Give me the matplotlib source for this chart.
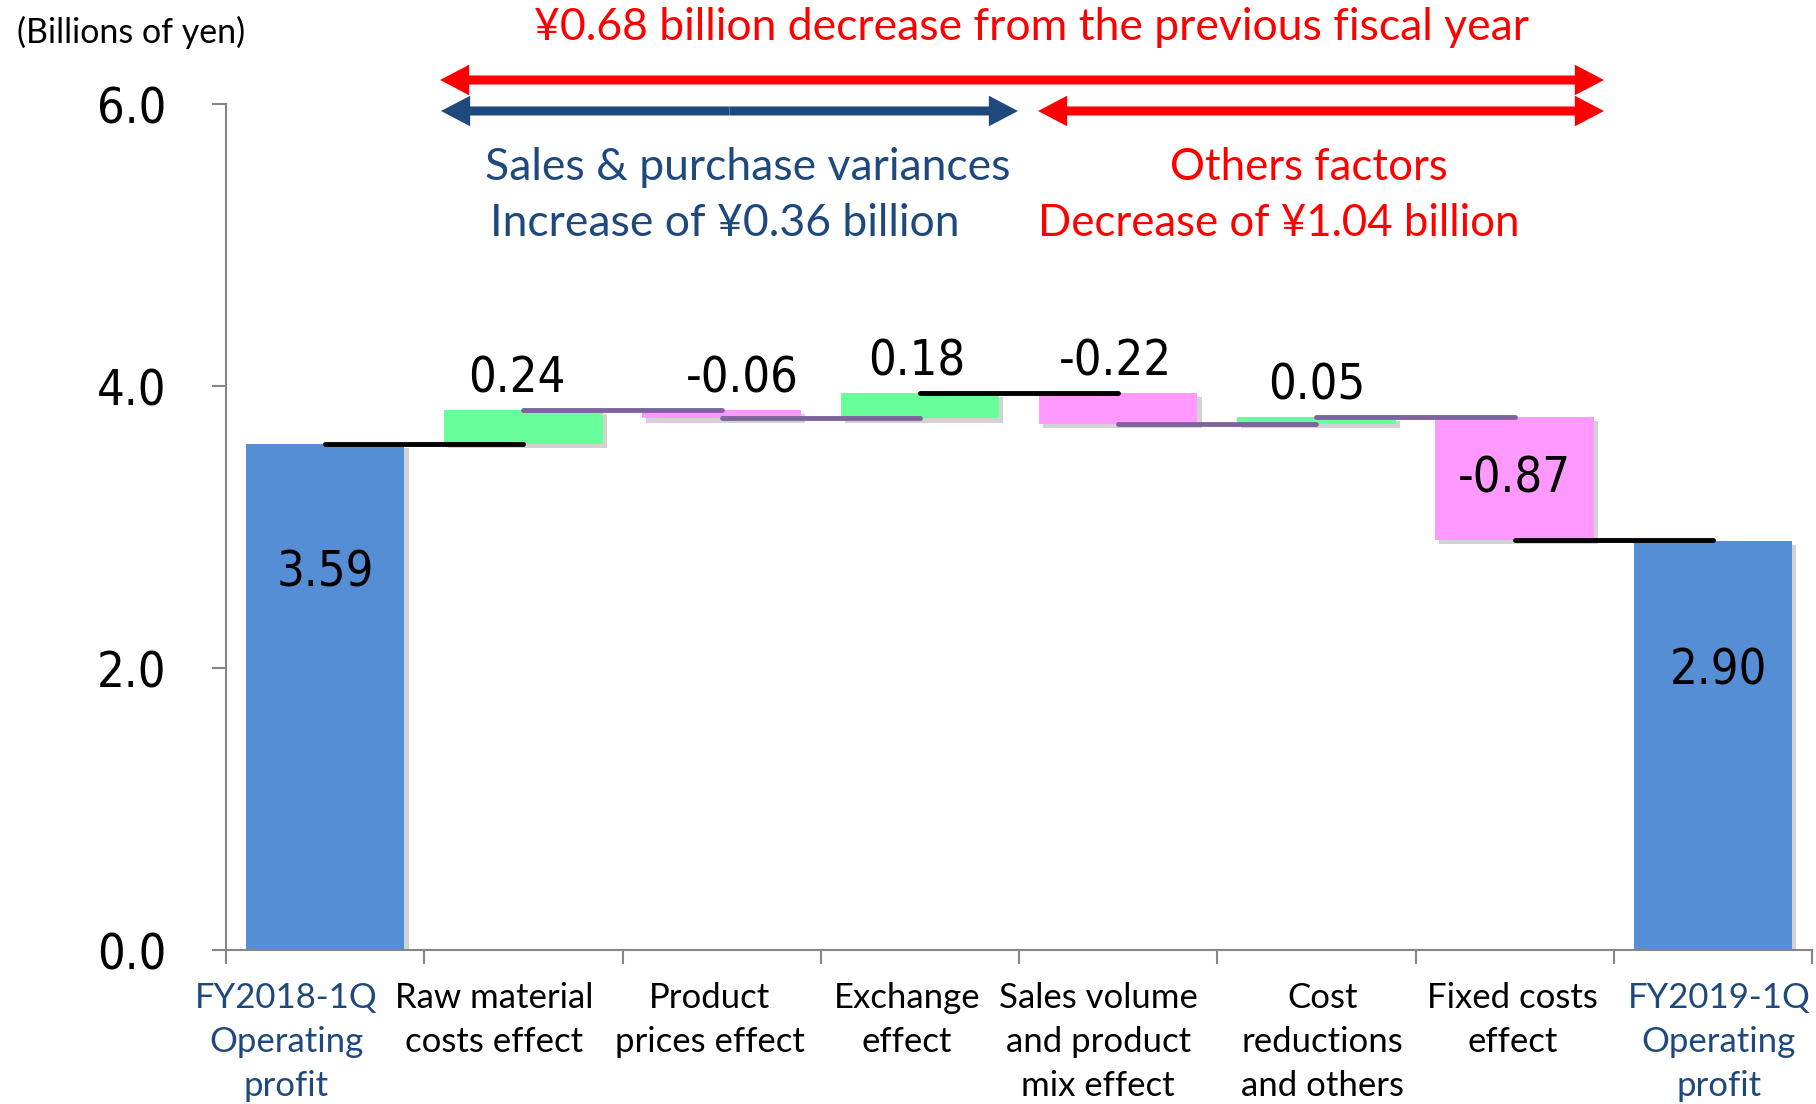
import matplotlib
matplotlib.use("Agg")
import matplotlib.pyplot as plt
import matplotlib.patheffects as pe
import matplotlib.transforms as mtransforms
from matplotlib.patches import FancyArrowPatch
import numpy as np

# data (billions of yen)
categories = ["FY2018-1Q\nOperating\nprofit", "Raw material\ncosts effect",
              "Product\nprices effect", "Exchange\neffect",
              "Sales volume\nand product\nmix effect", "Cost\nreductions\nand others",
              "Fixed costs\neffect", "FY2019-1Q\nOperating\nprofit"]
start_value = 3.59
changes = [0.24, -0.06, 0.18, -0.22, 0.05, -0.87]
end_value = 2.90
yticks = [0.0, 2.0, 4.0, 6.0]

title_text = "¥0.68 billion decrease from the previous fiscal year"
left_lines = ["Sales & purchase variances", "Increase of ¥0.36 billion"]
right_lines = ["Others factors", "Decrease of ¥1.04 billion"]
unit_text = "(Billions of yen)"

# styles
BLUE_BAR = "#558ED5"
GREEN = "#66FF99"
PINK = "#FF99FF"
NAVY = "#1F497D"
RED = "#FF0000"
PURPLE = "#7E649E"
connector_colors = ["black", PURPLE, PURPLE, "black", PURPLE, PURPLE, "black"]
label_colors = [NAVY] + ["black"] * 6 + [NAVY]
label_shift_px = [-39, -29, -12, -13, -20, 6, -2, 6]   # labels sit a bit off-centre in the original
value_shift_pt = [0, -5, 15, -2, -2, 0, 0, 4]

text_font = ["Lato", "DejaVu Sans"]
num_font = dict(family="DejaVu Sans", fontstretch="condensed", fontsize=35)

W, H = 1816, 1104
fig = plt.figure(figsize=(W / 100, H / 100), dpi=100)
ax = fig.add_axes([226 / W, 1 - 950 / H, (1812 - 226) / W, (950 - 104) / H])

shadow = [pe.withSimplePatchShadow(offset=(3, -3), shadow_rgbFace="#808080", alpha=0.35)]
width = 0.8
x = np.arange(len(categories))

running = start_value + np.cumsum(changes)
prev = np.concatenate([[start_value], running[:-1]])
bottoms = np.minimum(prev, running)
heights = np.abs(changes)
colors = [GREEN if c > 0 else PINK for c in changes]

ax.bar(x[0], start_value, width, color=BLUE_BAR, path_effects=shadow, zorder=2)
ax.bar(x[1:-1], heights, width, bottom=bottoms, color=colors, path_effects=shadow, zorder=2)
ax.bar(x[-1], end_value, width, color=BLUE_BAR, path_effects=shadow, zorder=2)

# connector lines from bar centre to next bar centre
levels = np.concatenate([[start_value], running])
for i, lvl in enumerate(levels):
    ax.plot([x[i], x[i + 1]], [lvl, lvl], color=connector_colors[i], lw=3.5,
            solid_capstyle="round", zorder=3)

# value labels
for k, (xi, v) in [(0, (x[0], start_value)), (7, (x[-1], end_value))]:
    ax.annotate("%.2f" % v, (xi, v), xytext=(value_shift_pt[k], -93), textcoords="offset points",
                ha="center", va="center", **num_font)
for i, c in enumerate(changes):
    xi = x[i + 1]
    dx = value_shift_pt[i + 1]
    if abs(c) > 0.5:
        ax.annotate("%.2f" % c, (xi, bottoms[i] + heights[i] / 2), xytext=(dx, 0),
                    textcoords="offset points", ha="center", va="center", zorder=4, **num_font)
    else:
        ax.annotate("%.2f" % c, (xi, bottoms[i] + heights[i]), xytext=(dx, 23),
                    textcoords="offset points", ha="center", va="center", **num_font)

ax.set_xlim(-0.5, len(categories) - 0.5)
ax.set_ylim(0, 6)
ax.set_yticks(yticks)
ax.set_yticklabels(["%.1f" % t for t in yticks], **num_font)
ax.set_xticks(x)
ax.set_xticklabels(categories, family=text_font, fontsize=25, linespacing=1.47)
ax.set_xticks(np.arange(-0.5, len(categories)), minor=True)
ax.tick_params(axis="x", which="major", length=0, pad=23)
ax.tick_params(axis="x", which="minor", length=10, color="#868686", width=1.5)
ax.tick_params(axis="y", length=10, color="#868686", width=1.5, pad=33)
for lbl, col, dx in zip(ax.get_xticklabels(), label_colors, label_shift_px):
    lbl.set_color(col)
    lbl.set_transform(lbl.get_transform()
                      + mtransforms.ScaledTranslation(dx / 100, 0, fig.dpi_scale_trans))
for s in ["top", "right"]:
    ax.spines[s].set_visible(False)
for s in ["left", "bottom"]:
    ax.spines[s].set_color("#868686")
    ax.spines[s].set_linewidth(1.5)

# annotations above the plot
fig.text(17 / W, 1 - 32 / H, unit_text, fontsize=24.5, family=text_font, va="center")
fig.text(1031 / W, 1 - 27 / H, title_text, fontsize=32, family=text_font,
         color=RED, ha="center", va="center")
for (cx, cy), line in zip([(748, 167), (725, 223)], left_lines):
    fig.text(cx / W, 1 - cy / H, line, fontsize=32, family=text_font,
             color=NAVY, ha="center", va="center")
for (cx, cy), line in zip([(1309, 167), (1279, 223)], right_lines):
    fig.text(cx / W, 1 - cy / H, line, fontsize=31.5, family=text_font,
             color=RED, ha="center", va="center")


def double_arrow(x0, x1, y, color):
    mid = (x0 + x1) / 2
    for end in (x0, x1):
        arr = FancyArrowPatch((mid / W, 1 - y / H), (end / W, 1 - y / H),
                              transform=fig.transFigure, color=color, lw=0,
                              arrowstyle="simple,tail_width=6.5,head_width=22,head_length=21",
                              mutation_scale=1, shrinkA=0, shrinkB=0)
        fig.patches.append(arr)


double_arrow(440, 1604, 80, RED)
double_arrow(441, 1018, 111, NAVY)
double_arrow(1038, 1604, 111, RED)

fig.savefig("out.png", dpi=100)
